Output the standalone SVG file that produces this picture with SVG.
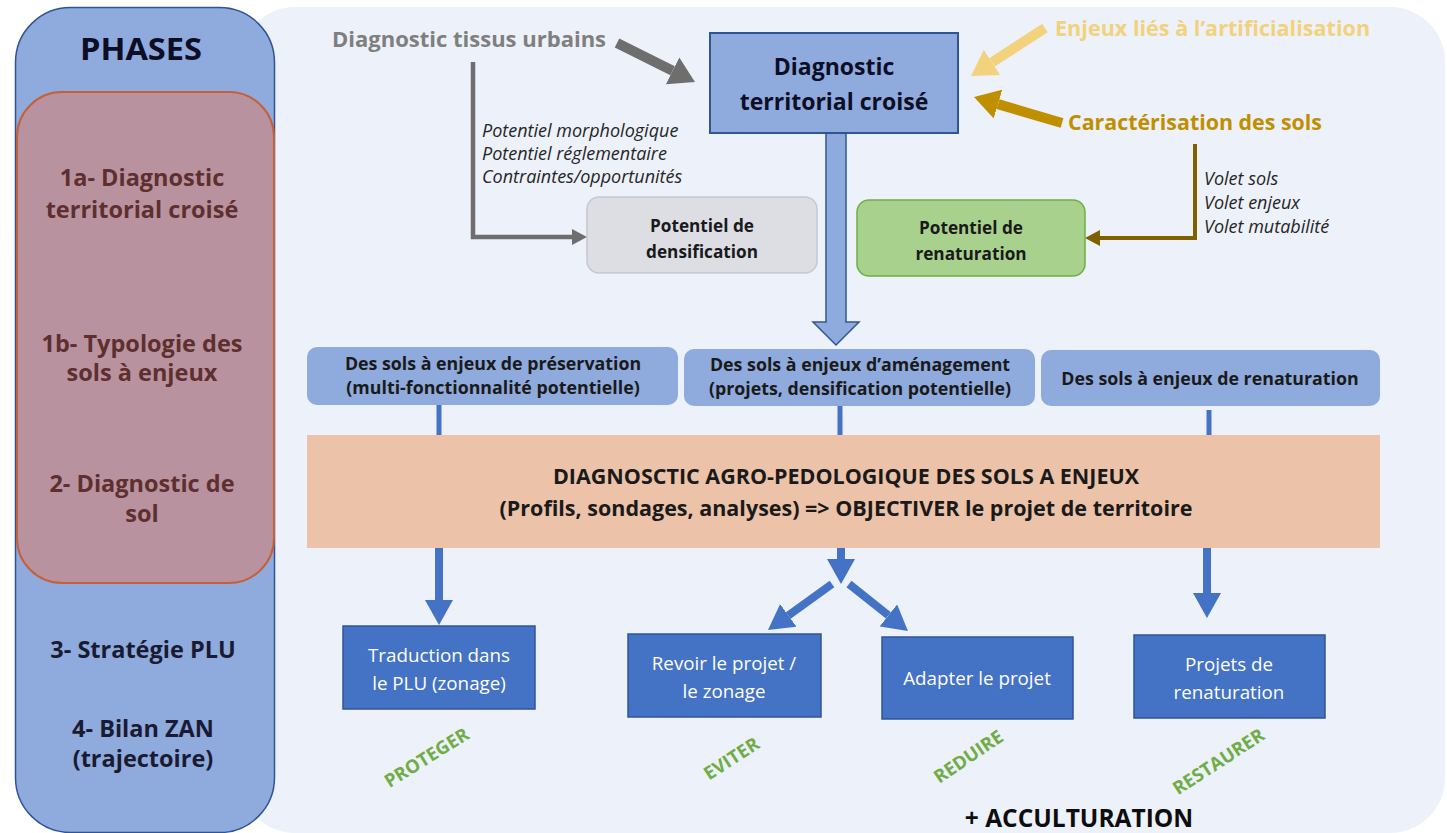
<svg xmlns="http://www.w3.org/2000/svg" width="1447" height="833" viewBox="0 0 1447 833">
<style>
  text { font-family: "Open Sans", "Liberation Sans", sans-serif; }
  .b { font-weight: bold; }
  .ph { font-size: 23.5px; font-weight: bold; text-anchor: middle; }
  .phr { fill: #5f2f2f; }
  .phb { fill: #1a1a33; }
  .it { font-size: 18px; font-style: italic; fill: #262626; }
  .lb { font-size: 17.2px; font-weight: bold; fill: #1a1a1a; text-anchor: middle; }
  .sb { font-size: 17.8px; font-weight: bold; fill: #1a1a1a; text-anchor: middle; }
  .wt { font-size: 18.8px; fill: #ffffff; text-anchor: middle; }
  .gr { font-size: 18.5px; font-weight: bold; fill: #70ad47; text-anchor: middle; }
  .sol { fill: #4472c4; stroke: #2f5597; stroke-width: 1.5; }
  .cat { fill: #8faadc; }
  .bl { stroke: #4472c4; fill: none; }
</style>
<defs>
  <marker id="hb" markerUnits="userSpaceOnUse" markerWidth="26" markerHeight="28" refX="0" refY="14" orient="auto">
    <path d="M0,0 L25,14 L0,28 z" fill="#4472c4"/>
  </marker>
  <marker id="hg" markerUnits="userSpaceOnUse" markerWidth="26" markerHeight="30" refX="0" refY="15" orient="auto">
    <path d="M0,0 L25,15 L0,30 z" fill="#6e6e6e"/>
  </marker>
  <marker id="hgs" markerUnits="userSpaceOnUse" markerWidth="16" markerHeight="16" refX="0" refY="8" orient="auto">
    <path d="M0,0 L15,8 L0,16 z" fill="#6e6e6e"/>
  </marker>
  <marker id="hy" markerUnits="userSpaceOnUse" markerWidth="26" markerHeight="30" refX="0" refY="15" orient="auto">
    <path d="M0,0 L25,15 L0,30 z" fill="#f2d27c"/>
  </marker>
  <marker id="ho" markerUnits="userSpaceOnUse" markerWidth="26" markerHeight="30" refX="0" refY="15" orient="auto">
    <path d="M0,0 L25,15 L0,30 z" fill="#bf8f00"/>
  </marker>
  <marker id="hbr" markerUnits="userSpaceOnUse" markerWidth="16" markerHeight="16" refX="0" refY="8" orient="auto">
    <path d="M0,0 L15,8 L0,16 z" fill="#7f6000"/>
  </marker>
</defs>

<rect id="background" x="240" y="7" width="1205" height="826" rx="55" fill="#edf1f9"/>

<g id="phases">
  <rect x="15.5" y="7.5" width="259" height="825" rx="55" fill="#8faadc" stroke="#2f5597" stroke-width="1.5"/>
  <rect x="17" y="92" width="257" height="491" rx="45" fill="#b8939f" stroke="#c5603a" stroke-width="2"/>
  <text x="141" y="60" class="b" font-size="31" text-anchor="middle" fill="#0d0d26" textLength="122" lengthAdjust="spacingAndGlyphs">PHASES</text>
  <text x="142" y="186" class="ph phr">1a- Diagnostic</text>
  <text x="142" y="218" class="ph phr">territorial croisé</text>
  <text x="142" y="352" class="ph phr">1b- Typologie des</text>
  <text x="142" y="381" class="ph phr">sols à enjeux</text>
  <text x="142" y="492" class="ph phr">2- Diagnostic de</text>
  <text x="142" y="522" class="ph phr">sol</text>
  <text x="143" y="658" class="ph phb">3- Stratégie PLU</text>
  <text x="143" y="737" class="ph phb">4- Bilan ZAN</text>
  <text x="143" y="767" class="ph phb">(trajectoire)</text>
</g>

<g id="connectors">
  <line x1="617" y1="43" x2="672.6" y2="70.8" stroke="#6e6e6e" stroke-width="10" marker-end="url(#hg)"/>
  <polyline points="473,62 473,237 572,237" fill="none" stroke="#6e6e6e" stroke-width="4.5" marker-end="url(#hgs)"/>
  <line x1="1045" y1="28" x2="992" y2="62.4" stroke="#f2d27c" stroke-width="10" marker-end="url(#hy)"/>
  <line x1="1062" y1="123" x2="998" y2="104.1" stroke="#bf8f00" stroke-width="10" marker-end="url(#ho)"/>
  <polyline points="1195,144 1195,238 1100,238" fill="none" stroke="#7f6000" stroke-width="4" marker-end="url(#hbr)"/>
  <path d="M826,133 L846,133 L846,322 L859,322 L836,345 L813,322 L826,322 Z" fill="#8faadc" stroke="#2f5597" stroke-width="1.5"/>
  <line x1="439" y1="405" x2="439" y2="436" class="bl" stroke-width="5"/>
  <line x1="840" y1="406" x2="840" y2="436" class="bl" stroke-width="5"/>
  <line x1="1209" y1="410" x2="1209" y2="436" class="bl" stroke-width="5"/>
  <line x1="439" y1="548" x2="439" y2="600" class="bl" stroke-width="8" marker-end="url(#hb)"/>
  <line x1="841" y1="548" x2="841" y2="559" class="bl" stroke-width="8" marker-end="url(#hb)"/>
  <line x1="832" y1="584" x2="788.3" y2="615.4" class="bl" stroke-width="8" marker-end="url(#hb)"/>
  <line x1="849" y1="584" x2="888.4" y2="615.4" class="bl" stroke-width="8" marker-end="url(#hb)"/>
  <line x1="1207" y1="548" x2="1207" y2="593" class="bl" stroke-width="8" marker-end="url(#hb)"/>
</g>

<g id="tissus">
  <text x="332" y="47" class="b" font-size="22" fill="#7f7f7f">Diagnostic tissus urbains</text>
  <text x="482" y="137" class="it">Potentiel morphologique</text>
  <text x="482" y="160" class="it">Potentiel réglementaire</text>
  <text x="482" y="183" class="it">Contraintes/opportunités</text>
</g>

<g id="diagnostic-territorial">
  <rect x="710" y="33" width="248" height="100" fill="#8faadc" stroke="#2f5597" stroke-width="2"/>
  <text x="834" y="75" class="b" font-size="23" text-anchor="middle" fill="#0d0d26">Diagnostic</text>
  <text x="834" y="110" class="b" font-size="23" text-anchor="middle" fill="#0d0d26">territorial croisé</text>
</g>

<g id="enjeux">
  <text x="1055" y="36" class="b" font-size="21.6" fill="#f2d27c">Enjeux liés à l’artificialisation</text>
</g>

<g id="caracterisation">
  <text x="1068" y="130" class="b" font-size="21.4" fill="#bf8f00">Caractérisation des sols</text>
  <text x="1204" y="185" class="it">Volet sols</text>
  <text x="1204" y="209" class="it">Volet enjeux</text>
  <text x="1204" y="233" class="it">Volet mutabilité</text>
</g>

<g id="potentiel-densification">
  <rect x="587" y="197" width="230" height="76" rx="12" fill="#dcdee4" stroke="#c4c8d0" stroke-width="1.5"/>
  <text x="702" y="232" class="lb">Potentiel de</text>
  <text x="702" y="258" class="lb">densification</text>
</g>

<g id="potentiel-renaturation">
  <rect x="857" y="200" width="228" height="76" rx="12" fill="#a9d18e" stroke="#70ad47" stroke-width="1.5"/>
  <text x="971" y="234" class="lb">Potentiel de</text>
  <text x="971" y="260" class="lb">renaturation</text>
</g>

<g id="sols-preservation">
  <rect x="307" y="347" width="371" height="58" rx="10" class="cat"/>
  <text x="493" y="370" class="sb">Des sols à enjeux de préservation</text>
  <text x="493" y="394" class="sb">(multi-fonctionnalité potentielle)</text>
</g>

<g id="sols-amenagement">
  <rect x="684" y="349" width="351" height="57" rx="10" class="cat"/>
  <text x="860" y="371" class="sb">Des sols à enjeux d’aménagement</text>
  <text x="860" y="395" class="sb">(projets, densification potentielle)</text>
</g>

<g id="sols-renaturation">
  <rect x="1041" y="350" width="339" height="56" rx="10" class="cat"/>
  <text x="1210" y="385" class="sb">Des sols à enjeux de renaturation</text>
</g>

<g id="diagnostic-agro">
  <rect x="307" y="435" width="1073" height="113" fill="#ecc2a8"/>
  <text x="846" y="484" class="b" font-size="21.5" text-anchor="middle" fill="#1a1a1a">DIAGNOSCTIC AGRO-PEDOLOGIQUE DES SOLS A ENJEUX</text>
  <text x="846" y="516" class="b" font-size="21.5" text-anchor="middle" fill="#1a1a1a">(Profils, sondages, analyses) =&gt; OBJECTIVER le projet de territoire</text>
</g>

<g id="traduction">
  <rect x="343" y="626" width="192" height="83" class="sol"/>
  <text x="439" y="662" class="wt">Traduction dans</text>
  <text x="439" y="690" class="wt">le PLU (zonage)</text>
</g>

<g id="revoir">
  <rect x="628" y="634" width="193" height="83" class="sol"/>
  <text x="724" y="670" class="wt">Revoir le projet /</text>
  <text x="724" y="698" class="wt">le zonage</text>
</g>

<g id="adapter">
  <rect x="882" y="637" width="191" height="82" class="sol"/>
  <text x="977" y="685" class="wt">Adapter le projet</text>
</g>

<g id="projets-renaturation">
  <rect x="1134" y="635" width="191" height="83" class="sol"/>
  <text x="1229" y="671" class="wt">Projets de</text>
  <text x="1229" y="699" class="wt">renaturation</text>
</g>

<g id="labels">
  <text class="gr" transform="translate(430,763) rotate(-32)">PROTEGER</text>
  <text class="gr" transform="translate(735,764) rotate(-33)">EVITER</text>
  <text class="gr" transform="translate(972,762) rotate(-34)">REDUIRE</text>
  <text class="gr" transform="translate(1222,767) rotate(-33)">RESTAURER</text>
  <text x="1079" y="827" class="b" font-size="24.5" text-anchor="middle" fill="#0d0d0d">+ ACCULTURATION</text>
</g>
</svg>
